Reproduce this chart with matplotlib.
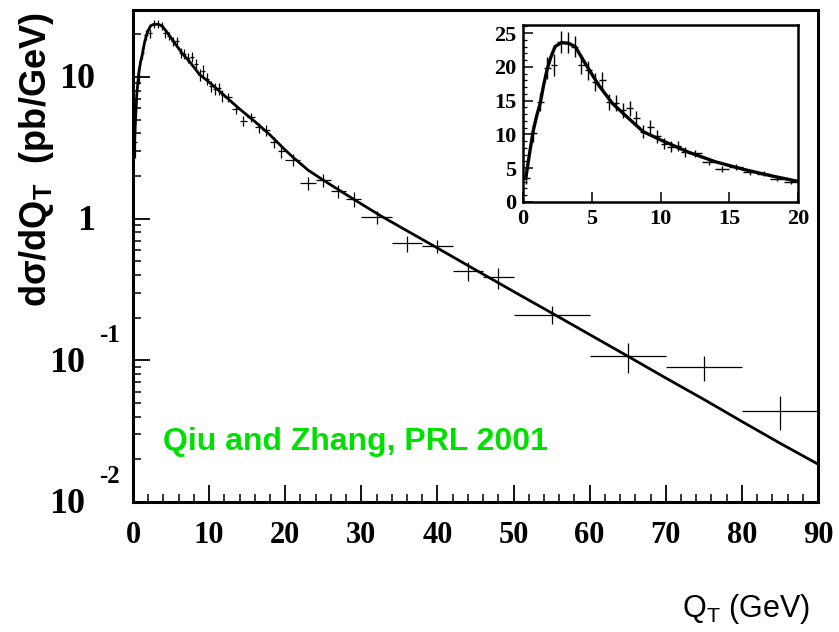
#!/usr/bin/env python3

import matplotlib
matplotlib.use("Agg")
import matplotlib.pyplot as plt
from matplotlib.ticker import MultipleLocator, LogLocator, NullFormatter

# measured points: bin centre, half bin width, value, error
qt = [0.25, 0.75, 1.25, 1.75, 2.25, 2.75, 3.25, 3.75, 4.25, 4.75, 5.25, 5.75,
      6.25, 6.75, 7.25, 7.75, 8.25, 8.75, 9.25, 9.75, 10.25, 10.75, 11.25, 11.75,
      12.5, 13.5, 14.5, 15.5, 16.5, 17.5, 18.5, 19.5,
      21, 23, 25, 27, 29, 32, 36, 40, 44, 48, 55, 65, 75, 85]
qt_half = [0.25] * 24 + [0.5] * 8 + [1] * 5 + [2] * 5 + [5] * 4
sigma = [3.5, 10.2, 14.8, 19.8, 20.3, 23.7, 23.6, 23.0, 20.3, 19.5, 17.8, 18.0,
         14.8, 14.6, 13.6, 13.9, 12.4, 10.4, 11.1, 9.7, 8.6, 8.2, 8.3, 7.4,
         7.2, 5.9, 4.9, 5.2, 4.4, 4.2, 3.45, 3.0,
         2.59, 1.78, 1.88, 1.57, 1.38, 1.02, 0.67, 0.64, 0.43, 0.386, 0.21, 0.107, 0.089, 0.044]
sigma_err = [0.8, 1.3, 1.4, 1.6, 1.6, 1.6, 1.6, 1.5, 1.4, 1.4, 1.3, 1.3,
             1.2, 1.2, 1.1, 1.1, 1.0, 1.0, 1.0, 0.9, 0.8, 0.8, 0.8, 0.7,
             0.5, 0.45, 0.4, 0.4, 0.35, 0.35, 0.3, 0.3,
             0.25, 0.2, 0.2, 0.17, 0.17, 0.11, 0.09, 0.07, 0.065, 0.065, 0.03, 0.025, 0.018, 0.012]

# theory curve
curve_qt = [0.2, 0.5, 0.75, 1.0, 1.25, 1.5, 1.75, 2.0, 2.33, 2.8, 3.3, 3.8, 4.5, 5.5,
            6.5, 7.4, 8.75, 10, 12, 14, 16, 18, 20, 21, 23, 25, 27, 29, 32.5,
            40, 45, 50, 55, 60, 65, 70, 75, 80, 85, 90]
curve_sigma = [3.5, 7.5, 10.6, 12.8, 14.6, 17.3, 19.6, 21.3, 23.0, 23.6, 23.5, 23.0, 20.6, 17.3,
               14.6, 12.9, 10.4, 9.2, 7.4, 5.95, 4.85, 3.9, 3.05, 2.72, 2.2, 1.87, 1.6, 1.37, 1.05,
               0.62, 0.435, 0.306, 0.216, 0.152, 0.107, 0.075, 0.053, 0.037, 0.026, 0.0185]

ytick_vals = [0.01, 0.1, 1, 10]
ytick_base = ["10", "10", "1", "10"]
ytick_exp = ["-2", "-1", "", ""]
inset_yticks = [0, 5, 10, 15, 20, 25]
inset_xticks = [0, 5, 10, 15, 20]

serif = "Liberation Serif"
sans = "Liberation Sans"


def main():
    fig = plt.figure(figsize=(8.39, 6.32), dpi=100)

    # main panel
    ax = fig.add_axes([0.1585, 0.2057, 0.8165, 0.7785])
    ax.set_yscale("log")
    ax.errorbar(qt, sigma, xerr=qt_half, yerr=sigma_err, fmt="none",
                ecolor="black", elinewidth=0.9, capsize=0)
    ax.plot(curve_qt, curve_sigma, color="black", lw=2.0)
    ax.set_xlim(0, 90)
    ax.set_ylim(0.01, 29.7)

    ax.xaxis.set_major_locator(MultipleLocator(10))
    ax.xaxis.set_minor_locator(MultipleLocator(2))
    ax.yaxis.set_major_locator(LogLocator(base=10, numticks=10))
    ax.yaxis.set_minor_locator(LogLocator(base=10, subs=range(2, 10), numticks=20))
    ax.yaxis.set_minor_formatter(NullFormatter())
    ax.set_yticklabels([])
    ax.tick_params(which="both", direction="in", top=False, right=False)
    ax.tick_params(which="major", length=12, width=1.3)
    ax.tick_params(which="minor", length=6, width=1.1)
    ax.tick_params(axis="x", which="major", pad=14)
    for lab in ax.get_xticklabels():
        lab.set_fontfamily(serif)
        lab.set_fontweight("bold")
        lab.set_fontsize(22)
    for sp in ax.spines.values():
        sp.set_linewidth(2.2)

    # ROOT style y labels
    for val, base, exp in zip(ytick_vals, ytick_base, ytick_exp):
        if exp:
            ax.annotate(base, xy=(0, val), xycoords=("axes fraction", "data"),
                        xytext=(-48, -3), textcoords="offset pixels",
                        ha="right", va="center", fontsize=26,
                        family=serif, weight="bold")
            ax.annotate(exp, xy=(0, val), xycoords=("axes fraction", "data"),
                        xytext=(-34, 25), textcoords="offset pixels",
                        ha="left", va="center", fontsize=18,
                        family=serif, weight="bold")
        else:
            ax.annotate(base, xy=(0, val), xycoords=("axes fraction", "data"),
                        xytext=(-38, -3), textcoords="offset pixels",
                        ha="right", va="center", fontsize=26,
                        family=serif, weight="bold")

    ax.text(0.044, 0.122, "Qiu and Zhang, PRL 2001", transform=ax.transAxes,
            color="#00e000", fontsize=23, family=sans, weight="bold",
            ha="left", va="center")

    fig.text(37 / 839, 1 - 160 / 632, "d\u03c3/dQ$_\\mathregular{T}$  (pb/GeV)",
             rotation=90, ha="center", va="center", fontsize=26,
             family=sans, weight="bold")
    fig.text(810 / 839, 1 - 609 / 632, r"Q$_\mathregular{T}$ (GeV)",
             ha="right", va="center", fontsize=22, family=sans)

    # inset, linear scale
    ins = fig.add_axes([523 / 839, 1 - 202 / 632, 275 / 839, 177 / 632])
    ins.errorbar(qt, sigma, xerr=qt_half, yerr=sigma_err, fmt="none",
                 ecolor="black", elinewidth=1.0, capsize=0)
    ins.plot(curve_qt, curve_sigma, color="black", lw=2.4)
    ins.set_xlim(0, 20)
    ins.set_ylim(0, 26.2)
    ins.set_xticks(inset_xticks)
    ins.set_yticks(inset_yticks)
    ins.yaxis.set_minor_locator(MultipleLocator(1))
    ins.tick_params(which="both", direction="in", top=False, right=False)
    ins.tick_params(which="major", length=7, width=1.1, pad=5)
    ins.tick_params(which="minor", length=3, width=0.9)
    for lab in ins.get_xticklabels() + ins.get_yticklabels():
        lab.set_fontfamily(serif)
        lab.set_fontweight("bold")
        lab.set_fontsize(16)
    for sp in ins.spines.values():
        sp.set_linewidth(1.8)

    fig.savefig("out.png", dpi=100)


if __name__ == "__main__":
    main()
